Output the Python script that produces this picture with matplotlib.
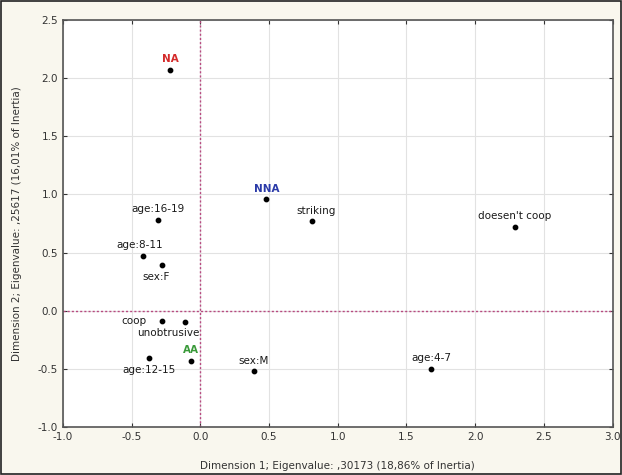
import matplotlib
matplotlib.use("Agg")
import matplotlib.pyplot as plt
from matplotlib.patches import Rectangle

# category coordinates
labels = ["NA", "NNA", "AA", "age:16-19", "striking", "doesen't coop",
          "age:8-11", "sex:F", "coop", "unobtrusive", "age:12-15",
          "sex:M", "age:4-7"]
dim1 = [-0.22, 0.48, -0.07, -0.31, 0.81, 2.29, -0.42, -0.28, -0.28,
        -0.11, -0.37, 0.39, 1.68]
dim2 = [2.07, 0.96, -0.43, 0.78, 0.77, 0.72, 0.47, 0.39, -0.09,
        -0.10, -0.41, -0.52, -0.50]
label_colors = {"NA": "#d42a2a", "NNA": "#2a3aa8", "AA": "#3a9a3a"}

xticks = [-1.0, -0.5, 0.0, 0.5, 1.0, 1.5, 2.0, 2.5, 3.0]
yticks = [-1.0, -0.5, 0.0, 0.5, 1.0, 1.5, 2.0, 2.5]

# where each label sits relative to its point (offset in points, alignment)
placement = {
    "sex:F": ((-4, -5), "center", "top"),
    "coop": ((-20, 0), "center", "center"),
    "unobtrusive": ((-12, -4), "center", "top"),
    "age:12-15": ((0, -5), "center", "top"),
    "age:8-11": ((-2, 4), "center", "bottom"),
    "striking": ((3, 4), "center", "bottom"),
}

fig = plt.figure(figsize=(6.22, 4.75), dpi=100)
fig.patch.set_facecolor("#f9f7ee")
fig.patches.append(Rectangle((0.002, 0.002), 0.996, 0.996, transform=fig.transFigure,
                             fill=False, edgecolor="#222222", linewidth=1.2))
ax = fig.add_axes([0.101, 0.101, 0.884, 0.857])
ax.set_facecolor("white")

ax.set_xlim(-1.0, 3.0)
ax.set_ylim(-1.0, 2.5)
ax.set_xticks(xticks)
ax.set_yticks(yticks)
ax.set_xticklabels([f"{t:.1f}" for t in xticks])
ax.set_yticklabels([f"{t:.1f}" for t in yticks])
ax.grid(True, color="#e2e2e2", linewidth=0.8)
ax.set_axisbelow(True)
ax.tick_params(direction="in", length=3, labelsize=7.5, colors="#333333",
               top=True, right=True)
for s in ax.spines.values():
    s.set_color("#555555")
    s.set_linewidth(1.2)

ax.axvline(0, color="#b84a80", linestyle=(0, (1.5, 1.5)), linewidth=1.0)
ax.axhline(0, color="#b84a80", linestyle=(0, (1.5, 1.5)), linewidth=1.0)

ax.scatter(dim1, dim2, s=10, color="black", zorder=3)
for lab, x, y in zip(labels, dim1, dim2):
    off, ha, va = placement.get(lab, ((0, 4), "center", "bottom"))
    color = label_colors.get(lab, "#1a1a1a")
    weight = "bold" if lab in label_colors else "normal"
    ax.annotate(lab, (x, y), xytext=off, textcoords="offset points",
                ha=ha, va=va, fontsize=7.5, color=color, fontweight=weight)

ax.set_xlabel("Dimension 1; Eigenvalue: ,30173 (18,86% of Inertia)",
              fontsize=7.5, color="#333333", labelpad=14)
ax.set_ylabel("Dimension 2; Eigenvalue: ,25617 (16,01% of Inertia)",
              fontsize=7.5, color="#333333", labelpad=11)

fig.savefig("out.png", dpi=100, facecolor=fig.get_facecolor())
